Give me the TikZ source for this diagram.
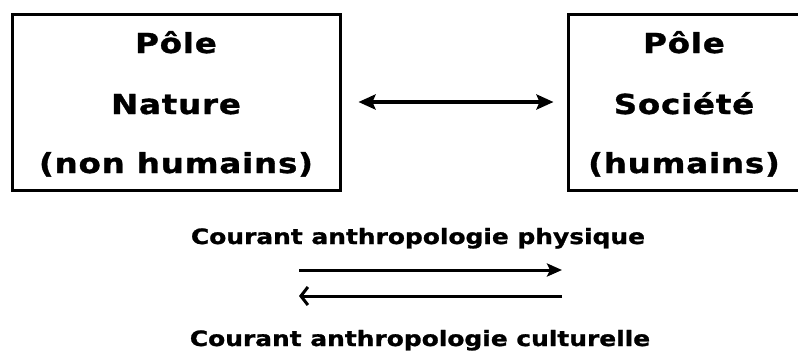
\documentclass[tikz,border=0pt]{standalone}
\usepackage{fontspec}
\newfontfamily\boxfont{DejaVu Sans Bold}[FakeStretch=1.18,FakeBold=1.2,LetterSpace=3]
\newfontfamily\lowfont{DejaVu Sans Bold}[FakeStretch=1.18,FakeBold=1.2]
\usetikzlibrary{arrows.meta}
\begin{document}
\begin{tikzpicture}[x=1pt,y=-1pt,
  polebox/.style={draw=black,line width=3pt,minimum width=328pt,minimum height=176pt,inner sep=0pt},
  boxtext/.style={anchor=base,inner sep=0pt,font=\boxfont\fontsize{27.5}{30}\selectfont},
  lowtext/.style={anchor=base,inner sep=0pt,font=\lowfont\fontsize{21.1}{25}\selectfont},
  conn/.style={line width=3.5pt}]
\clip (0,0) rectangle (798,354);
\fill[white] (0,0) rectangle (798,354);
% boxes
\node[polebox] (nature) at (176,102) {};
\node[polebox,minimum width=234pt] (societe) at (685,102) {};
% box texts
\node[boxtext] (n1) at (176,53) {Pôle};
\node[boxtext] (n2) at (176,114) {Nature};
\node[boxtext] (n3) at (176,173) {(non humains)};
\node[boxtext] (s1) at (684,53) {Pôle};
\node[boxtext] (s2) at (684,114) {Société};
\node[boxtext] (s3) at (684,173) {(humains)};
% double arrow
\draw[conn,{Stealth[length=17pt,width=15pt,inset=3pt]}-{Stealth[length=17pt,width=15pt,inset=3pt]}]
  ([xshift=17pt]nature.east) -- ([xshift=-13pt]societe.west);
% lower texts
\node[lowtext] (phys) at (418,244) {Courant anthropologie physique};
\node[lowtext] (cult) at (420,346) {Courant anthropologie culturelle};
% lower arrows
\coordinate (p1) at (299,270);
\coordinate (p2) at (562,270);
\coordinate (c1) at (562,296);
\coordinate (c2) at (299,296);
\draw[line width=3pt,-{Stealth[length=15pt,width=13pt,inset=3pt]}] (p1) -- (p2);
\draw[line width=3pt,-{Straight Barb[length=7pt,width=18pt,line width=3pt]}] (c1) -- (c2);
\end{tikzpicture}
\end{document}
